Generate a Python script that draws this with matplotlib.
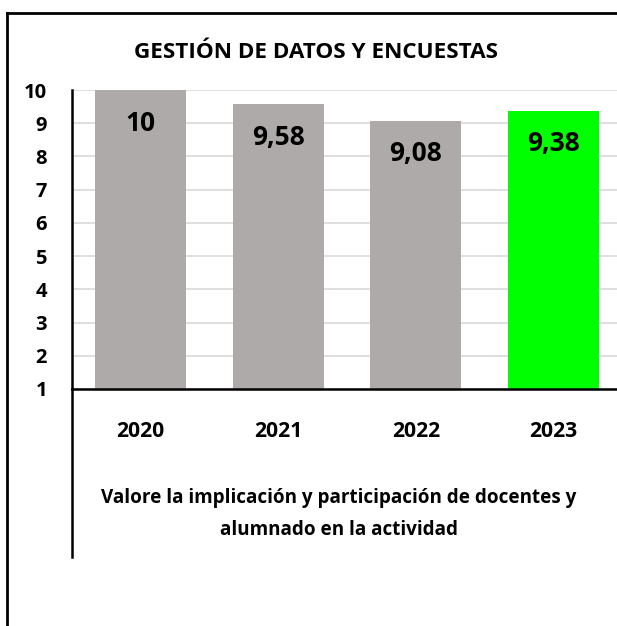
import matplotlib.pyplot as plt
from matplotlib.lines import Line2D

# data
years = ['2020', '2021', '2022', '2023']
values = [10, 9.58, 9.08, 9.38]
bar_colors = ['#aeaaaa', '#aeaaaa', '#aeaaaa', '#00ff00']
y_ticks = [1, 2, 3, 4, 5, 6, 7, 8, 9, 10]

title = 'GESTIÓN DE DATOS Y ENCUESTAS'
x_title = 'Valore la implicación y participación de docentes y\nalumnado en la actividad'

plt.rcParams['font.family'] = ['Open Sans', 'DejaVu Sans']
plt.rcParams['font.weight'] = 'bold'

W, H = 617, 626
fig = plt.figure(figsize=(W / 100, H / 100), dpi=100)
fig.patch.set_facecolor('white')

# plot area (extends a bit past the right edge, like the reference crop)
ax_left, ax_right, ax_top, ax_bot = 72, 622, 90, 389
ax = fig.add_axes([ax_left / W, 1 - ax_bot / H, (ax_right - ax_left) / W, (ax_bot - ax_top) / H])

x = range(len(years))
ax.bar(x, values, width=0.66, color=bar_colors, zorder=2)
ax.set_xlim(-0.5, 3.5)
ax.set_ylim(1, 10)
ax.set_yticks(y_ticks)
ax.set_yticklabels([str(t) for t in y_ticks], fontsize=14.5, fontweight='bold')
ax.set_xticks(list(x))
ax.set_xticklabels(years, fontsize=15.2, fontweight='bold')
ax.tick_params(axis='y', length=0, pad=18)
ax.tick_params(axis='x', length=0, pad=23)
ax.grid(axis='y', color='#d9d9d9', linewidth=1.2, zorder=0)
ax.set_axisbelow(True)
for s in ['top', 'right']:
    ax.spines[s].set_visible(False)
ax.spines['left'].set_linewidth(1.8)
ax.spines['bottom'].set_linewidth(1.8)

for i, v in enumerate(values):
    lab = ('%g' % v).replace('.', ',')
    ax.annotate(lab, (i, v), xytext=(0, -24), textcoords='offset points',
                ha='center', va='center', fontsize=19, fontweight='bold', zorder=3)

# left line continuing below the axis
fig.add_artist(Line2D([ax_left / W, ax_left / W], [1 - ax_bot / H, 1 - 557 / H],
                      color='black', linewidth=1.8))

# outer frame (left and top only visible)
fig.add_artist(Line2D([7 / W, 7 / W], [1 - 13 / H, 0], color='black', linewidth=2))
fig.add_artist(Line2D([7 / W, 1], [1 - 13 / H, 1 - 13 / H], color='black', linewidth=2))

fig.text(316 / W, 1 - 52 / H, title, ha='center', va='center', fontsize=16.2, fontweight='bold')
fig.text(339 / W, 1 - 514 / H, x_title, ha='center', va='center', fontsize=13.6,
         fontweight='bold', linespacing=1.75)

fig.savefig('out.png', dpi=100)
